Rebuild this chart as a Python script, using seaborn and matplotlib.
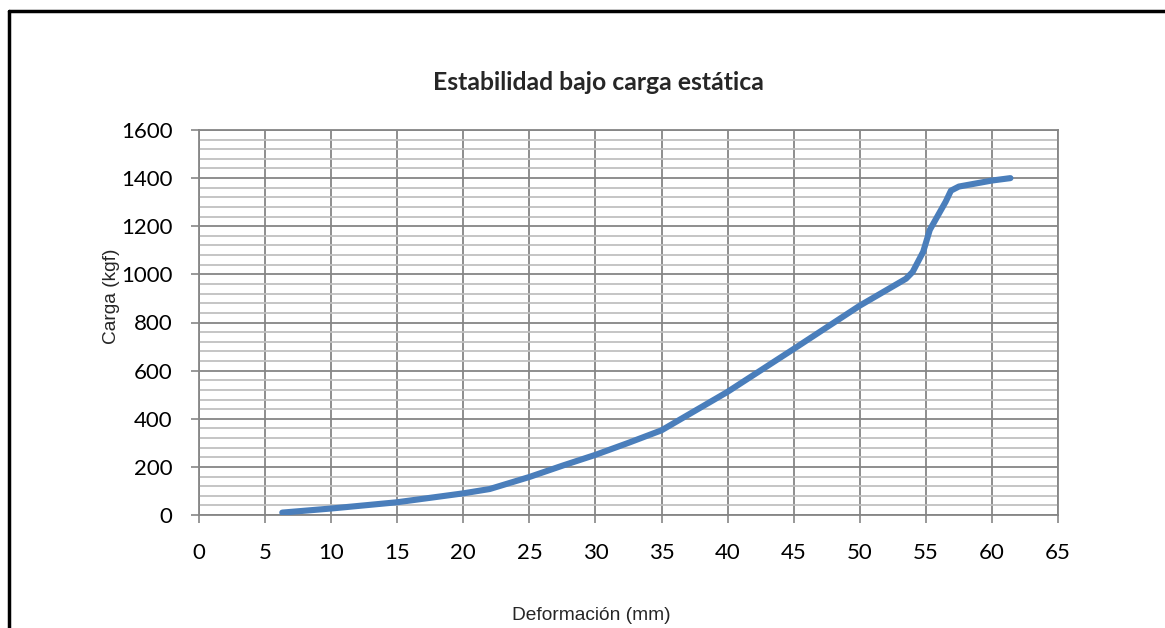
import matplotlib
matplotlib.use("Agg")
import matplotlib.pyplot as plt
from matplotlib.lines import Line2D
from matplotlib.ticker import MultipleLocator
import seaborn as sns
import pandas as pd

deformacion = [6.3, 10, 15, 20, 22, 25, 27.5, 30, 32.5, 35, 40, 45, 50, 53.5,
               54.0, 54.8, 55.3, 56.5, 56.9, 57.5, 60, 61.4]
carga = [10, 27, 53, 90, 108, 158, 205, 250, 300, 352, 512, 690, 870, 982,
         1010, 1094, 1185, 1302, 1348, 1365, 1390, 1400]

title = "Estabilidad bajo carga estática"
xlabel = "Deformación (mm)"
ylabel = "Carga (kgf)"

df = pd.DataFrame({"x": deformacion, "y": carga})

sns.set_theme(style="white")
fig = plt.figure(figsize=(11.65, 6.28), dpi=100)
ax = fig.add_axes([199/1165, 1 - 515/628, (1058-199)/1165, (515-130)/628])

ax.set_xlim(0, 65)
ax.set_ylim(0, 1600)
ax.xaxis.set_major_locator(MultipleLocator(5))
ax.yaxis.set_major_locator(MultipleLocator(200))
ax.yaxis.set_minor_locator(MultipleLocator(40))
ax.grid(which="minor", axis="y", color="#c0c0c0", linewidth=1.3, zorder=0)
ax.grid(which="major", axis="both", color="#868686", linewidth=1.3, zorder=1)
ax.set_axisbelow(True)

sns.lineplot(data=df, x="x", y="y", sort=False, ax=ax, color="#4a7ebb",
             linewidth=4.4, solid_capstyle="round", solid_joinstyle="round", zorder=3)

for s in ax.spines.values():
    s.set_color("#868686")
    s.set_linewidth(1.3)

ax.tick_params(axis="both", which="major", direction="out", length=6, width=1.2,
               color="#868686", labelsize=16, labelcolor="black")
ax.tick_params(axis="x", which="major", bottom=True, pad=14.5)
ax.tick_params(axis="y", which="major", left=True, pad=13)
ax.tick_params(which="minor", length=0)
for lab in ax.get_xticklabels() + ax.get_yticklabels():
    lab.set_family(["Lato", "DejaVu Sans"])

ax.set_xlabel(xlabel, fontsize=13.8, family=["Liberation Sans", "DejaVu Sans"])
ax.set_ylabel(ylabel, fontsize=13.8, family=["Liberation Sans", "DejaVu Sans"])
ax.xaxis.label.set_va("center")
ax.yaxis.label.set_va("center")
ax.xaxis.set_label_coords((591 - 199) / 859, (515 - 616) / 385)
ax.yaxis.set_label_coords((112 - 199) / 859, (515 - 296) / 385)

fig.text(598/1165, 1 - 82/628, title, ha="center", va="center", fontsize=17.8,
         fontweight="bold", family=["Lato", "DejaVu Sans"])

# outer border (top and left edges visible)
fig.add_artist(Line2D([9/1165, 1.0], [1 - 11/628, 1 - 11/628], color="black",
                      linewidth=2.5, transform=fig.transFigure))
fig.add_artist(Line2D([9/1165, 9/1165], [0.0, 1 - 11/628], color="black",
                      linewidth=2.5, transform=fig.transFigure))

fig.savefig("out.png", dpi=100)
